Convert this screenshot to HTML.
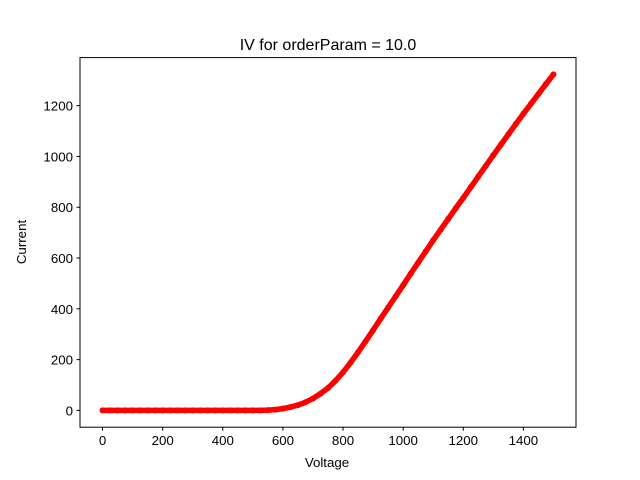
<!DOCTYPE html>
<html><head><meta charset="utf-8"><style>
body{margin:0;background:#fff;}
svg{display:block;font-family:"Liberation Sans","DejaVu Sans",sans-serif;}
</style></head><body>
<svg id="chart" width="640" height="480">
<rect width="640" height="480" fill="#fff"/>
<text x="328" y="50" font-size="16" text-anchor="middle">IV for orderParam = 10.0</text>
<g id="plot"></g>
<rect x="80" y="57.6" width="496" height="369.6" fill="none" stroke="#000" stroke-width="1"/>
<g id="xt"></g>
<g id="yt"></g>
<text x="327" y="467" font-size="13.3" text-anchor="middle">Voltage</text>
<text x="0" y="0" font-size="13.3" text-anchor="middle" transform="translate(26,242) rotate(-90)">Current</text>
</svg>
<script>
const voltage=[0,25,50,75,100,125,150,175,200,225,250,275,300,325,350,375,400,425,450,475,500,525,550,575,600,625,650,675,700,725,750,775,800,825,850,875,900,925,950,975,1000,1025,1050,1075,1100,1125,1150,1175,1200,1225,1250,1275,1300,1325,1350,1375,1400,1425,1450,1475,1500];
const current=[0,0,0,0,0,0,0,0,0,0,0,0,0,0,0,0,0,0,0,0,0,0,1,3,7,13,21,32,47,66,88,117,150,188,229,272,316,361,405,449,493,538,582,626,670,712,754,796,837,879,921,963,1005,1046,1087,1128,1168,1207,1246,1285,1323];
const xTicks=[0,200,400,600,800,1000,1200,1400];
const yTicks=[0,200,400,600,800,1000,1200];
const NS="http://www.w3.org/2000/svg";
const x0=80,x1=576,y0=427.2,y1=57.6;
const xmin=-75,xmax=1575;
const ymax0=Math.max(...current),ymin0=Math.min(...current),ym=(ymax0-ymin0)*0.05;
const ymin=ymin0-ym,ymax=ymax0+ym;
const X=v=>x0+(v-xmin)/(xmax-xmin)*(x1-x0);
const Y=v=>y0-(v-ymin)/(ymax-ymin)*(y0-y1);
const plot=document.getElementById('plot');
const pts=voltage.map((v,i)=>X(v)+','+Y(current[i])).join(' ');
const bl=document.createElementNS(NS,'polyline');
bl.setAttribute('points',pts);bl.setAttribute('fill','none');bl.setAttribute('stroke','#1f3fb4');bl.setAttribute('stroke-width','1.5');


plot.appendChild(bl);
const pl=document.createElementNS(NS,'polyline');
pl.setAttribute('points',pts);pl.setAttribute('fill','none');pl.setAttribute('stroke','#f00');pl.setAttribute('stroke-width','5.5');pl.setAttribute('stroke-linejoin','round');pl.setAttribute('stroke-linecap','round');


plot.appendChild(pl);
voltage.forEach((v,i)=>{
 const c=document.createElementNS(NS,'circle');
 c.setAttribute('cx',X(v));c.setAttribute('cy',Y(current[i]));c.setAttribute('r','3');c.setAttribute('fill','#f00');
 
 
 plot.appendChild(c);
});
const xt=document.getElementById('xt');
xTicks.forEach(t=>{
 const l=document.createElementNS(NS,'line');
 l.setAttribute('x1',X(t));l.setAttribute('x2',X(t));l.setAttribute('y1',y0);l.setAttribute('y2',y0+3.5);l.setAttribute('stroke','#000');
 
 
 xt.appendChild(l);
 const s=document.createElementNS(NS,'text');
 s.setAttribute('x',X(t));s.setAttribute('y',y0+18);s.setAttribute('font-size','13.3');s.setAttribute('text-anchor','middle');s.textContent=t;
 
 
 xt.appendChild(s);
});
const yt=document.getElementById('yt');
yTicks.forEach(t=>{
 const l=document.createElementNS(NS,'line');
 l.setAttribute('x1',x0-3.5);l.setAttribute('x2',x0);l.setAttribute('y1',Y(t));l.setAttribute('y2',Y(t));l.setAttribute('stroke','#000');
 
 
 yt.appendChild(l);
 const s=document.createElementNS(NS,'text');
 s.setAttribute('x',x0-7);s.setAttribute('y',Y(t)+5);s.setAttribute('font-size','13.3');s.setAttribute('text-anchor','end');s.textContent=t;
 
 
 yt.appendChild(s);
});
</script>
</body></html>
